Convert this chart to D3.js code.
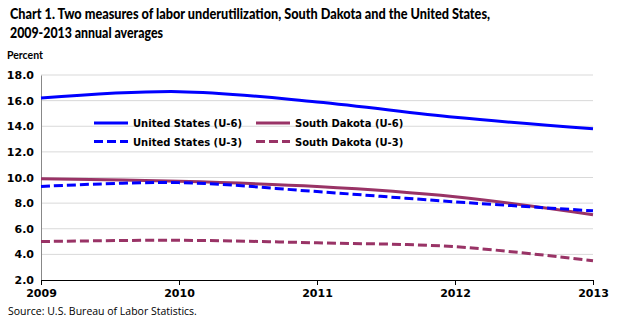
<!DOCTYPE html>
<html><head><meta charset="utf-8">
<script src="https://cdn.jsdelivr.net/npm/d3@7"></script>
<style>body{margin:0;background:#fff}svg{display:block}</style>
</head><body><svg id="c" width="618" height="322"></svg>
<script>
const years = [2009, 2010, 2011, 2012, 2013];
const usU6 = [16.2, 16.7, 15.9, 14.7, 13.8];
const sdU6 = [9.9, 9.7, 9.3, 8.5, 7.1];
const usU3 = [9.3, 9.6, 8.9, 8.1, 7.4];
const sdU3 = [5.0, 5.1, 4.9, 4.6, 3.5];
const yTicks = [2, 4, 6, 8, 10, 12, 14, 16, 18];
const seriesNames = ["United States (U-6)", "South Dakota (U-6)", "United States (U-3)", "South Dakota (U-3)"];

const blue = "#0000ff", maroon = "#993366";
const series = [
  {name: seriesNames[0], vals: usU6, color: blue, dash: null},
  {name: seriesNames[1], vals: sdU6, color: maroon, dash: null},
  {name: seriesNames[2], vals: usU3, color: blue, dash: "9,4"},
  {name: seriesNames[3], vals: sdU3, color: maroon, dash: "9,4"}
];

const svg = d3.select("#c");
const x = d3.scaleLinear().domain([2009, 2013]).range([41, 593]);
const y = d3.scaleLinear().domain([2, 18]).range([280, 75]);
const font = "'DejaVu Sans', Verdana, sans-serif";
const tfont = "Lato, sans-serif";

// title
svg.append("text").attr("x", 10).attr("y", 18.5)
  .attr("textLength", 480).attr("lengthAdjust", "spacingAndGlyphs")
  .style("font-family", tfont).style("font-weight", "900").style("font-size", "14.5px")
  .text("Chart 1. Two measures of labor underutilization, South Dakota and the United States,");
svg.append("text").attr("x", 10).attr("y", 38)
  .attr("textLength", 153).attr("lengthAdjust", "spacingAndGlyphs")
  .style("font-family", tfont).style("font-weight", "900").style("font-size", "14.5px")
  .text("2009-2013 annual averages");
svg.append("text").attr("x", 7).attr("y", 58.5)
  .style("font-family", tfont).style("font-weight", "bold").style("font-size", "10.5px")
  .text("Percent");

// gridlines
svg.append("g").selectAll("line").data(yTicks.slice(1)).join("line")
  .attr("x1", 41).attr("x2", 593).attr("y1", d => y(d)).attr("y2", d => y(d))
  .attr("stroke", "#d9d9d9").attr("stroke-width", 1);

// y axis
const ya = svg.append("g").attr("transform", "translate(41,0)")
  .call(d3.axisLeft(y).tickValues(yTicks).tickFormat(d3.format(".1f")).tickSize(0).tickPadding(7));
ya.select(".domain").attr("stroke", "#888");
ya.selectAll("text").style("font-family", font).style("font-weight", "bold").style("font-size", "11px").attr("fill", "#000");

// x axis
const xa = svg.append("g").attr("transform", "translate(0,280)")
  .call(d3.axisBottom(x).tickValues(years).tickFormat(d3.format("d")).tickSize(5).tickSizeOuter(0).tickPadding(4));
xa.select(".domain").attr("stroke", "#000");
xa.selectAll("line").attr("stroke", "#000");
xa.selectAll("text").style("font-family", font).style("font-weight", "bold").style("font-size", "11px").attr("fill", "#000");

// lines
const line = d3.line().x((d, i) => x(years[i])).y(d => y(d)).curve(d3.curveCatmullRom.alpha(0.5));
const order = [1, 3, 2, 0];
order.forEach(k => {
  const s = series[k];
  svg.append("path").datum(s.vals).attr("d", line)
    .attr("fill", "none").attr("stroke", s.color).attr("stroke-width", 3)
    .attr("stroke-dasharray", s.dash);
});

// legend
const lg = [
  {s: series[0], lx: 94, ty: 123},
  {s: series[1], lx: 256, ty: 123},
  {s: series[2], lx: 94, ty: 141.5},
  {s: series[3], lx: 256, ty: 141.5}
];
lg.forEach(o => {
  svg.append("line").attr("x1", o.lx).attr("x2", o.lx + 34).attr("y1", o.ty).attr("y2", o.ty)
    .attr("stroke", o.s.color).attr("stroke-width", 3).attr("stroke-dasharray", o.s.dash ? "9,4" : null);
  svg.append("text").attr("x", o.lx + 39).attr("y", o.ty + 4)
    .style("font-family", font).style("font-weight", "bold").style("font-size", "10px")
    .text(o.s.name);
});

svg.append("text").attr("x", 8).attr("y", 315)
  .style("font-family", "'Open Sans', sans-serif").style("font-size", "10.5px")
  .text("Source: U.S. Bureau of Labor Statistics.");
</script></body></html>
